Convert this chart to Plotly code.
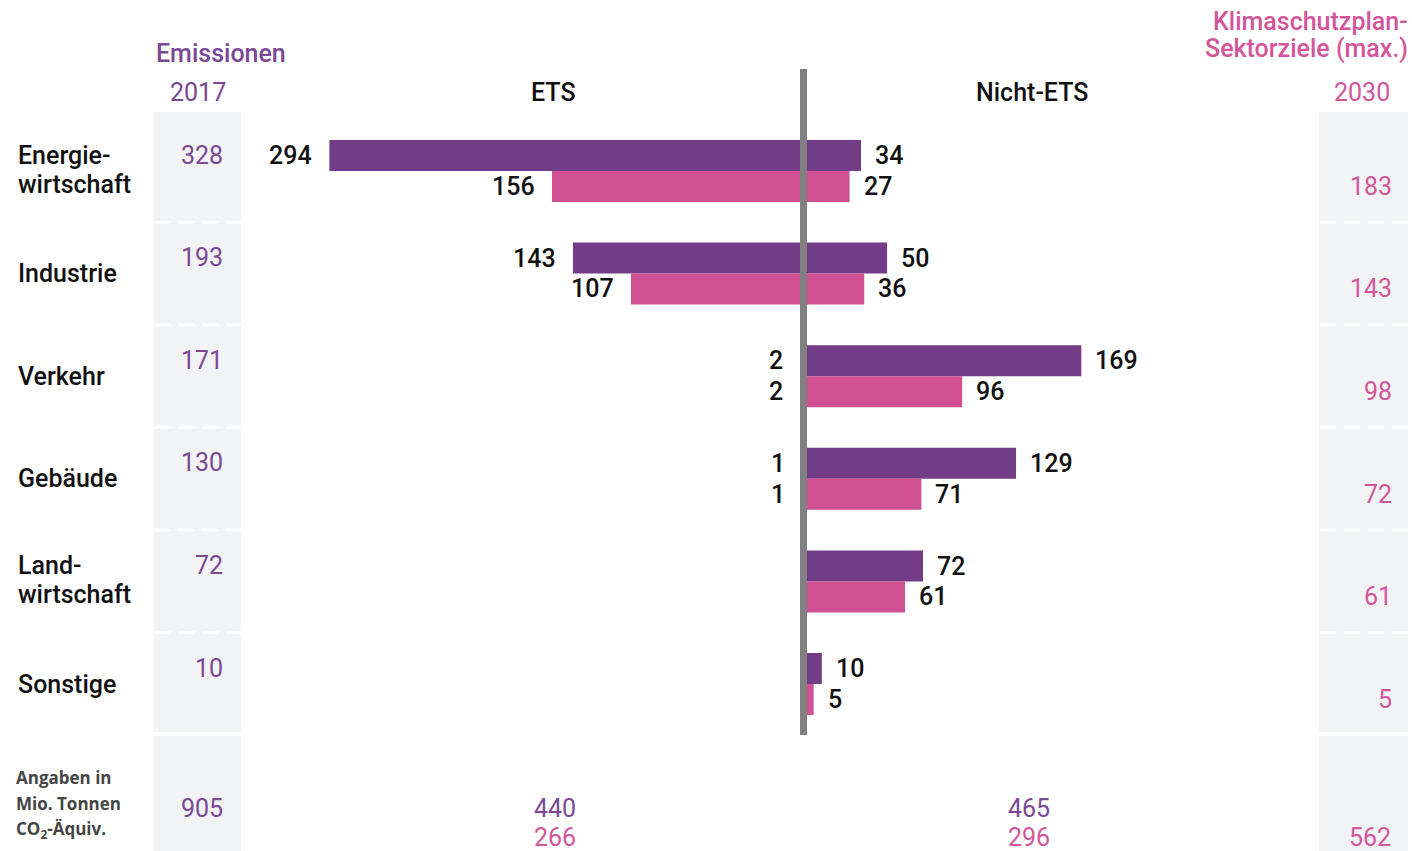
import plotly.graph_objects as go

# ---------------- data ----------------
sectors = ["Energie-<br>wirtschaft", "Industrie", "Verkehr", "Gebäude", "Land-<br>wirtschaft", "Sonstige"]
emis_2017 = [328, 193, 171, 130, 72, 10]
ets_2017 = [294, 143, 2, 1, 0, 0]
ets_2030 = [156, 107, 2, 1, 0, 0]
nets_2017 = [34, 50, 169, 129, 72, 10]
nets_2030 = [27, 36, 96, 71, 61, 5]
target_2030 = [183, 143, 98, 72, 61, 5]
total_2017 = 905
total_ets_2017, total_ets_2030 = 440, 266
total_nets_2017, total_nets_2030 = 465, 296
total_target_2030 = 562

# ---------------- style ----------------
W, H = 1412, 851
PURPLE = "#733c87"
PINK = "#d14f93"
PURPLE_TXT = "#7b4894"
PINK_TXT = "#d2569a"
BOXGRAY = "#f2f3f5"
FONT = "Roboto"
FS = 25
WT = 500

def px(x):
    return x / W

def py(y):
    return 1 - y / H

idx = list(range(len(sectors)))
ROW0, ROWH = 171.0, 102.6
y_top = -ROW0 / ROWH
y_bot = (H - ROW0) / ROWH
BW = 0.302

L0, LS = 803.6, 1.613   # ETS origin (px) and scale px/unit
R0, RS = 805.5, 1.632   # Nicht-ETS origin and scale

fig = go.Figure()

def bar(vals, color, xa, offset):
    fig.add_trace(go.Bar(
        y=idx, x=vals, base=0, orientation="h", width=BW, offset=offset,
        marker=dict(color=color, line=dict(width=0)),
        xaxis=xa, yaxis="y", hoverinfo="skip"))

bar(ets_2017, PURPLE, "x", -BW)
bar(ets_2030, PINK, "x", 0)
bar(nets_2017, PURPLE, "x2", -BW)
bar(nets_2030, PINK, "x2", 0)

annotations = []
shapes = []

def txt(x, y, text, color="#111111", size=FS, xanchor="center", yanchor="middle",
        xref="paper", yref="paper", xshift=0, yshift=0, family=FONT, weight=WT):
    annotations.append(dict(x=x, y=y, text=text, xref=xref, yref=yref, showarrow=False,
                            xanchor=xanchor, yanchor=yanchor, xshift=xshift, yshift=yshift,
                            font=dict(family=family, size=size, color=color, weight=weight)))

# gray column boxes
for (x0, x1) in [(154, 241), (1319, 1408)]:
    for (y0, y1) in [(112, 732), (736, 851)]:
        shapes.append(dict(type="rect", xref="paper", yref="paper",
                           x0=px(x0), x1=px(x1), y0=py(y1), y1=py(y0),
                           fillcolor=BOXGRAY, line=dict(width=0), layer="below"))
    for i in idx[:-1]:
        shapes.append(dict(type="line", xref="paper", yref="y",
                           x0=px(x0 + 1), x1=px(x1), y0=i + 0.5, y1=i + 0.5,
                           line=dict(color="white", width=3, dash="16px,8px"), layer="below"))

# center line
shapes.append(dict(type="rect", xref="paper", yref="paper",
                   x0=px(800), x1=px(807), y0=py(735), y1=py(69),
                   fillcolor="#808080", line=dict(width=0), layer="above"))

# headers
txt(px(154), py(53), "Emissionen", color=PURPLE_TXT, xanchor="left")
txt(px(198), py(93), "2017", color=PURPLE_TXT, weight=400)
txt(px(553), py(93), "ETS")
txt(px(1032), py(93), "Nicht-ETS")
txt(px(1362), py(93), "2030", color=PINK_TXT, weight=400)
txt(px(1410), py(21), "Klimaschutzplan-", color=PINK_TXT, xanchor="right")
txt(px(1410), py(49), "Sektorziele (max.)", color=PINK_TXT, xanchor="right")

# rows
for i, name in enumerate(sectors):
    parts = name.split("<br>")
    if len(parts) == 1:
        txt(px(16), i, parts[0], yref="y", xanchor="left")
    else:
        txt(px(16), i, parts[0], yref="y", xanchor="left", yshift=16)
        txt(px(16), i, parts[1], yref="y", xanchor="left", yshift=-13)
    txt(px(225), i - 0.155, str(emis_2017[i]), color=PURPLE_TXT, yref="y", xanchor="right",
        weight=400)
    txt(px(1394), i + 0.15, str(target_2030[i]), color=PINK_TXT, yref="y", xanchor="right",
        weight=400)
    for vals, dy in [(ets_2017, -0.15), (ets_2030, 0.15)]:
        if vals[i] > 0:
            txt(vals[i], i + dy, str(vals[i]), xref="x", yref="y", xanchor="right", xshift=-15)
    for vals, dy in [(nets_2017, -0.15), (nets_2030, 0.15)]:
        if vals[i] > 0:
            txt(vals[i], i + dy, str(vals[i]), xref="x2", yref="y", xanchor="left", xshift=12)

# totals
for yy, line in [(777, "Angaben in"), (803, "Mio. Tonnen"), (829, "CO<sub>2</sub>-Äquiv.")]:
    txt(px(14), py(yy), "<b>" + line + "</b>", color="#454545", size=17, xanchor="left",
        family="Open Sans", weight="bold")
txt(px(202), py(808), str(total_2017), color=PURPLE_TXT, weight=400)
txt(px(555), py(808), str(total_ets_2017), color=PURPLE_TXT, weight=400)
txt(px(555), py(837), str(total_ets_2030), color=PINK_TXT, weight=400)
txt(px(1029), py(808), str(total_nets_2017), color=PURPLE_TXT, weight=400)
txt(px(1029), py(837), str(total_nets_2030), color=PINK_TXT, weight=400)
txt(px(1393), py(837), str(total_target_2030), color=PINK_TXT, xanchor="right", weight=400)

fig.update_layout(
    width=W, height=H, autosize=False,
    margin=dict(l=0, r=0, t=0, b=0, pad=0),
    paper_bgcolor="white", plot_bgcolor="rgba(0,0,0,0)",
    showlegend=False, barmode="overlay",
    font=dict(family=FONT, size=FS, color="#111111"),
    xaxis=dict(domain=[0, L0 / W], range=[L0 / LS, 0], visible=False, fixedrange=True),
    xaxis2=dict(domain=[R0 / W, 1], range=[0, (W - R0) / RS], visible=False, fixedrange=True,
                anchor="y"),
    yaxis=dict(range=[y_bot, y_top], visible=False, fixedrange=True),
    annotations=annotations,
    shapes=shapes,
)

fig.write_html(
    "out.html",
    config={"displayModeBar": False},
    post_script="document.body.style.margin='0';document.body.style.overflow='hidden';",
)
